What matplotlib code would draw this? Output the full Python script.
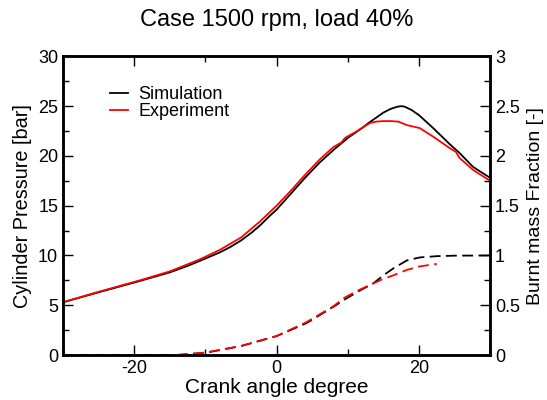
import numpy as np
import matplotlib
matplotlib.use('Agg')
import matplotlib.pyplot as plt
from matplotlib.ticker import MultipleLocator

plt.rcParams['font.family'] = ['Liberation Sans', 'DejaVu Sans']
plt.rcParams['axes.unicode_minus'] = False

# pressure, simulation / experiment
ca_sim = [-30, -25, -19.2, -15, -12.5, -10.8, -8, -6.5, -5, -3.5, -2.35, -1, 0, 1, 2, 4, 6, 8,
          10, 12, 13, 14, 15, 16, 17, 17.5, 18, 19, 20, 22, 24.3, 25.7, 27.6, 30]
p_sim = [5.3, 6.3, 7.44, 8.3, 8.95, 9.45, 10.3, 10.85, 11.5, 12.3, 13.0, 13.95, 14.6, 15.4, 16.2,
         17.8, 19.3, 20.6, 21.8, 22.8, 23.35, 23.85, 24.35, 24.72, 24.95, 25.0, 24.95, 24.6, 24.1,
         22.8, 21.2, 20.3, 18.9, 17.8]
ca_exp = [-30, -25, -19.2, -15, -10.8, -8, -5, -2.35, 0, 2, 4, 6, 8, 9.1, 9.6, 11.2, 13.1, 14,
          15, 16, 17.1, 18.3, 20.1, 22, 24.3, 25.2, 25.7, 27.6, 30]
p_exp = [5.3, 6.35, 7.5, 8.4, 9.6, 10.55, 11.8, 13.4, 15.0, 16.5, 18.1, 19.6, 20.9, 21.35, 21.8,
         22.45, 23.3, 23.45, 23.5, 23.5, 23.45, 23.1, 22.8, 21.94, 20.8, 20.4, 19.8, 18.6, 17.5]

# burnt mass fraction
ca_bmf_sim = [-30, -14, -10, -5, 0, 4.2, 8, 9.4, 11.5, 13.6, 15, 16.4, 18.3, 20.1, 22.5, 25, 30]
bmf_sim = [0, 0, 0.022, 0.09, 0.19, 0.32, 0.485, 0.55, 0.64, 0.72, 0.8, 0.87, 0.95, 0.98, 0.993,
           0.998, 1.0]
ca_bmf_exp = [-14, -10, -5, 0, 4.2, 8, 9.4, 11.5, 13.6, 15, 16.4, 18.3, 20.1, 22.5]
bmf_exp = [0, 0.025, 0.09, 0.19, 0.33, 0.49, 0.57, 0.65, 0.72, 0.765, 0.80, 0.855, 0.89, 0.915]

fig = plt.figure(figsize=(5.47, 4.0), dpi=100)
ax = fig.add_axes([0.1152, 0.1125, 0.7808, 0.7465])
ax2 = ax.twinx()

ax.plot(ca_sim, p_sim, color='black', lw=1.3, label='Simulation')
ax.plot(ca_exp, p_exp, color='red', lw=1.3, label='Experiment')
ax2.plot(ca_bmf_sim, bmf_sim, color='black', lw=1.3, ls=(0, (6, 3)))
ax2.plot(ca_bmf_exp, bmf_exp, color='red', lw=1.3, ls=(0, (6, 3)))

ax.set_xlim(-30, 30)
ax.set_ylim(0, 30)
ax2.set_ylim(0, 3)
ax.xaxis.set_major_locator(MultipleLocator(20))
ax.xaxis.set_minor_locator(MultipleLocator(10))
ax.yaxis.set_major_locator(MultipleLocator(5))
ax.yaxis.set_minor_locator(MultipleLocator(2.5))
ax2.set_yticks([0, 0.5, 1, 1.5, 2, 2.5, 3])
ax2.set_yticklabels(['0', '0.5', '1', '1.5', '2', '2.5', '3'])
ax2.yaxis.set_minor_locator(MultipleLocator(0.25))

ax.tick_params(which='both', direction='in', top=True, labelsize=13)
ax.tick_params(which='major', length=7, width=1)
ax.tick_params(which='minor', length=4, width=1)
ax2.tick_params(which='both', direction='in', labelsize=13)
ax2.tick_params(which='major', length=7, width=1)
ax2.tick_params(which='minor', length=4, width=1)
for sp in ax.spines.values():
    sp.set_linewidth(1.8)
for sp in ax2.spines.values():
    sp.set_linewidth(1.8)

ax.set_xlabel('Crank angle degree', fontsize=15, labelpad=1)
ax.set_ylabel('Cylinder Pressure [bar]', fontsize=14.3, labelpad=4)
ax2.set_ylabel('Burnt mass Fraction [-]', fontsize=14, labelpad=5)
ax.set_title('Case 1500 rpm, load 40%', fontsize=17, pad=22)

ax.legend(loc='upper left', bbox_to_anchor=(0.072, 0.955), frameon=False, fontsize=13,
          handlelength=1.0, handletextpad=0.55, labelspacing=0.0)

fig.savefig('out.png', dpi=100)
